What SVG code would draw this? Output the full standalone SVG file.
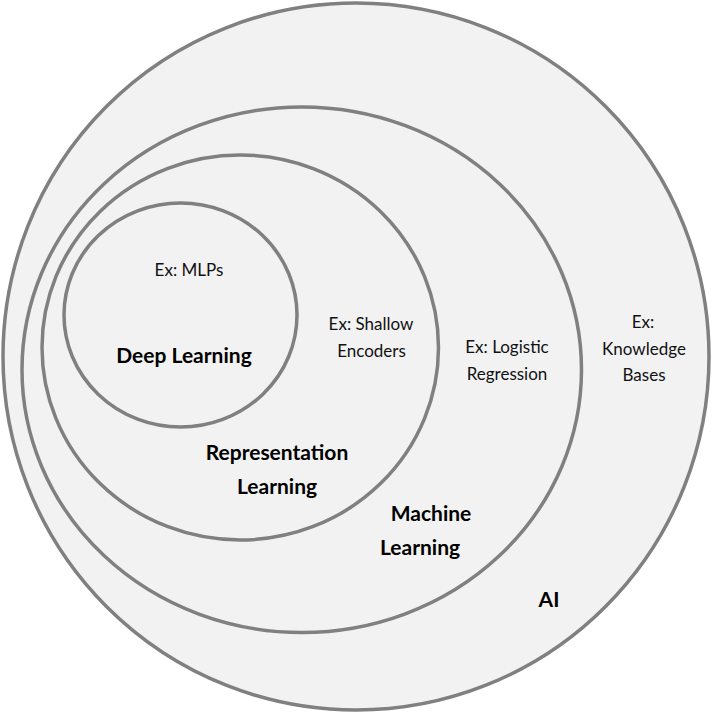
<svg xmlns="http://www.w3.org/2000/svg" width="713" height="713" viewBox="0 0 713 713">
<style>
.ring{fill:#f2f2f2;stroke:#808080;stroke-width:3.5}
.ex{font-family:Lato,"Open Sans","Liberation Sans",sans-serif;font-size:17px;fill:#111;text-anchor:middle}
.lbl{font-family:Lato,"Open Sans","Liberation Sans",sans-serif;font-size:21px;font-weight:bold;fill:#000;text-anchor:middle}
</style>
<rect width="713" height="713" fill="#fff"/>
<g id="ai">
<ellipse class="ring" cx="356" cy="356.5" rx="353" ry="353.5"/>
<text class="ex" x="643" y="328">Ex:</text>
<text class="ex" x="644" y="354.5">Knowledge</text>
<text class="ex" x="644" y="381">Bases</text>
<text class="lbl" x="549" y="607">AI</text>
</g>
<g id="ml">
<ellipse class="ring" cx="301.75" cy="369.75" rx="279.75" ry="262.75"/>
<text class="ex" x="507" y="353">Ex: Logistic</text>
<text class="ex" x="507" y="379.5">Regression</text>
<text class="lbl" x="431" y="521">Machine</text>
<text class="lbl" x="420" y="555">Learning</text>
</g>
<g id="rl">
<ellipse class="ring" cx="240.25" cy="347.5" rx="198.25" ry="192.5"/>
<text class="ex" x="371" y="330">Ex: Shallow</text>
<text class="ex" x="371.5" y="356.5">Encoders</text>
<text class="lbl" x="277" y="460">Representation</text>
<text class="lbl" x="277" y="494">Learning</text>
</g>
<g id="dl">
<ellipse class="ring" cx="180.5" cy="315" rx="116.5" ry="112"/>
<text class="ex" x="189" y="276">Ex: MLPs</text>
<text class="lbl" x="184" y="363">Deep Learning</text>
</g>
<g id="connectors"></g>
</svg>
